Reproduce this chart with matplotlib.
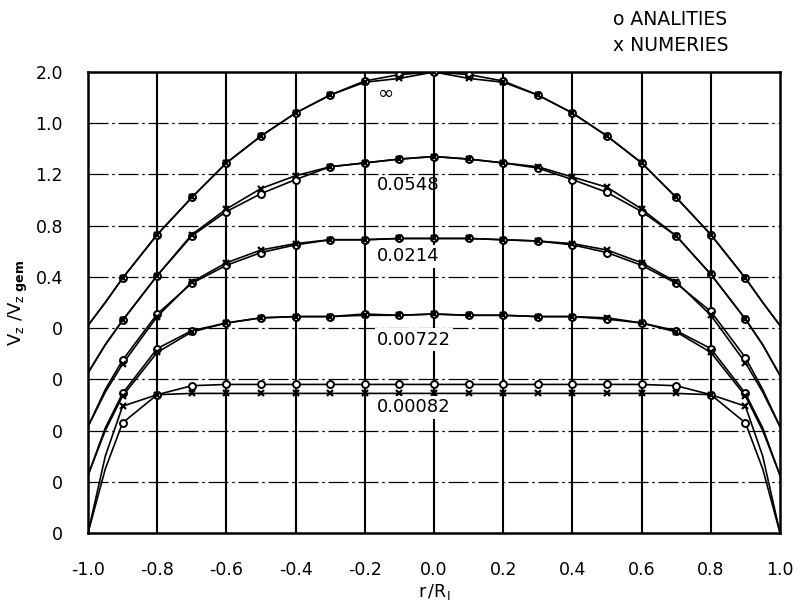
import numpy as np
import matplotlib
matplotlib.use('Agg')
import matplotlib.pyplot as plt

plt.rcParams['font.family'] = ['DejaVu Sans']
plt.rcParams['mathtext.fontset'] = 'dejavusans'

# radial positions (r/R) of the profile points
r = [-1.0, -0.95, -0.9, -0.8, -0.7, -0.6, -0.5, -0.4, -0.3, -0.2, -0.1, 0.0,
     0.1, 0.2, 0.3, 0.4, 0.5, 0.6, 0.7, 0.8, 0.9, 0.95, 1.0]

# V_z / V_z,gem per axial station (analytical "o", numerical "x")
inf_ana = [0.02, 0.20, 0.39, 0.73, 1.02, 1.29, 1.50, 1.68, 1.82, 1.93, 1.98, 2.00,
           1.98, 1.93, 1.82, 1.68, 1.50, 1.29, 1.02, 0.73, 0.39, 0.20, 0.02]
inf_num = [0.02, 0.20, 0.39, 0.73, 1.02, 1.29, 1.50, 1.68, 1.82, 1.92, 1.95, 2.00,
           1.95, 1.92, 1.82, 1.68, 1.50, 1.29, 1.02, 0.73, 0.39, 0.20, 0.02]

z0548_ana = [0.05, 0.27, 0.46, 0.81, 1.12, 1.31, 1.45, 1.56, 1.66, 1.69, 1.72, 1.74,
             1.72, 1.69, 1.65, 1.56, 1.46, 1.31, 1.12, 0.82, 0.47, 0.27, 0.03]
z0548_num = [0.05, 0.27, 0.46, 0.81, 1.13, 1.33, 1.49, 1.59, 1.66, 1.69, 1.72, 1.74,
             1.72, 1.69, 1.66, 1.58, 1.50, 1.33, 1.12, 0.82, 0.47, 0.27, 0.03]

z0214_ana = [0.03, 0.32, 0.55, 0.91, 1.15, 1.29, 1.39, 1.45, 1.49, 1.49, 1.50, 1.50,
             1.50, 1.49, 1.48, 1.45, 1.39, 1.29, 1.15, 0.93, 0.57, 0.32, 0.03]
z0214_num = [0.03, 0.30, 0.52, 0.89, 1.16, 1.31, 1.41, 1.46, 1.49, 1.49, 1.50, 1.50,
             1.50, 1.49, 1.48, 1.46, 1.41, 1.31, 1.16, 0.90, 0.53, 0.30, 0.03]

z00722_ana = [0.05, 0.42, 0.69, 1.04, 1.18, 1.24, 1.28, 1.29, 1.29, 1.31, 1.30, 1.31,
              1.30, 1.30, 1.29, 1.29, 1.27, 1.24, 1.18, 1.04, 0.69, 0.42, 0.05]
z00722_num = [0.05, 0.40, 0.67, 1.01, 1.17, 1.24, 1.28, 1.29, 1.29, 1.30, 1.30, 1.31,
              1.30, 1.30, 1.29, 1.29, 1.28, 1.24, 1.17, 1.01, 0.67, 0.40, 0.05]

z00082_ana = [0.00, 0.50, 0.86, 1.08, 1.15, 1.16, 1.16, 1.16, 1.16, 1.16, 1.16, 1.16,
              1.16, 1.16, 1.16, 1.16, 1.16, 1.16, 1.15, 1.08, 0.86, 0.50, 0.00]
z00082_num = [0.00, 0.60, 0.99, 1.08, 1.09, 1.09, 1.09, 1.09, 1.09, 1.09, 1.09, 1.09,
              1.09, 1.09, 1.09, 1.09, 1.09, 1.09, 1.09, 1.08, 0.99, 0.60, 0.00]

curve_labels = ['\u221e', '0.0548', '0.0214', '0.00722', '0.00082']
offsets = [1.6, 1.2, 0.8, 0.4, 0.0]   # each profile is shifted up by this much

ytick_labels = ['0', '0', '0', '0', '0', '0.4', '0.8', '1.2', '1.0', '2.0']
xtick_labels = ['-1.0', '-0.8', '-0.6', '-0.4', '-0.2', '0.0',
                '0.2', '0.4', '0.6', '0.8', '1.0']

profiles = [(inf_ana, inf_num), (z0548_ana, z0548_num), (z0214_ana, z0214_num),
            (z00722_ana, z00722_num), (z00082_ana, z00082_num)]

fig = plt.figure(figsize=(8.02, 6.06), dpi=100)
ax = fig.add_axes([0.1097, 0.1205, 0.8629, 0.7607])

r_arr = np.array(r)
mk = slice(2, -2)   # markers only at the measured stations, not at the wall

for (ana, num), off in zip(profiles, offsets):
    ya = np.array(ana) + off
    yn = np.array(num) + off
    ax.plot(r_arr, ya, color='black', lw=1.2, zorder=3)
    ax.plot(r_arr, yn, color='black', lw=1.2, zorder=3)
    ax.plot(r_arr[mk], ya[mk], 'o', ms=5, mfc='white', mec='black', mew=1.4, zorder=4)
    ax.plot(r_arr[mk], yn[mk], 'x', ms=5, color='black', mew=1.6, zorder=4)

# grid: solid verticals, dash-dot horizontals
for xv in np.arange(-0.8, 0.81, 0.2):
    ax.axvline(xv, color='black', lw=1.5, zorder=1)
for yv in np.arange(0.4, 3.21, 0.4):
    ax.axhline(yv, color='black', lw=0.9, ls=(0, (16, 3, 2, 3)), zorder=1)

# curve annotations
ax.text(-0.14, 3.43, curve_labels[0], fontsize=14, ha='center', va='center', zorder=5)
ax.text(-0.165, 2.72, curve_labels[1], fontsize=13, ha='left', va='center', zorder=5)
label_box = dict(facecolor='white', edgecolor='none', pad=1.5)
ax.text(-0.165, 2.16, curve_labels[2], fontsize=13, ha='left', va='center',
        bbox=label_box, zorder=5)
ax.text(-0.165, 1.51, curve_labels[3], fontsize=13, ha='left', va='center',
        bbox=label_box, zorder=5)
ax.text(-0.165, 0.98, curve_labels[4], fontsize=13, ha='left', va='center',
        bbox=label_box, zorder=5)

ax.set_xlim(-1.0, 1.0)
ax.set_ylim(0.0, 3.6)
ax.set_xticks(np.linspace(-1.0, 1.0, 11))
ax.set_xticklabels(xtick_labels)
ax.set_yticks(np.linspace(0.0, 3.6, 10))
ax.set_yticklabels(ytick_labels)
ax.tick_params(length=0, labelsize=12.5)
ax.tick_params(axis='x', pad=20)
ax.tick_params(axis='y', pad=18)
for sp in ax.spines.values():
    sp.set_linewidth(1.8)

ax.set_xlabel(r'$\mathrm{r\,/R_I}$', fontsize=12.5, labelpad=2)
ax.set_ylabel(r'$\mathrm{V_z\ /V_{z\ \mathbf{gem}}}$', fontsize=13, labelpad=4)

fig.text(0.764, 0.968, 'o ANALITIES', fontsize=13.5, ha='left', va='center')
fig.text(0.764, 0.925, 'x NUMERIES', fontsize=13.5, ha='left', va='center')

fig.savefig('out.png', dpi=100)
